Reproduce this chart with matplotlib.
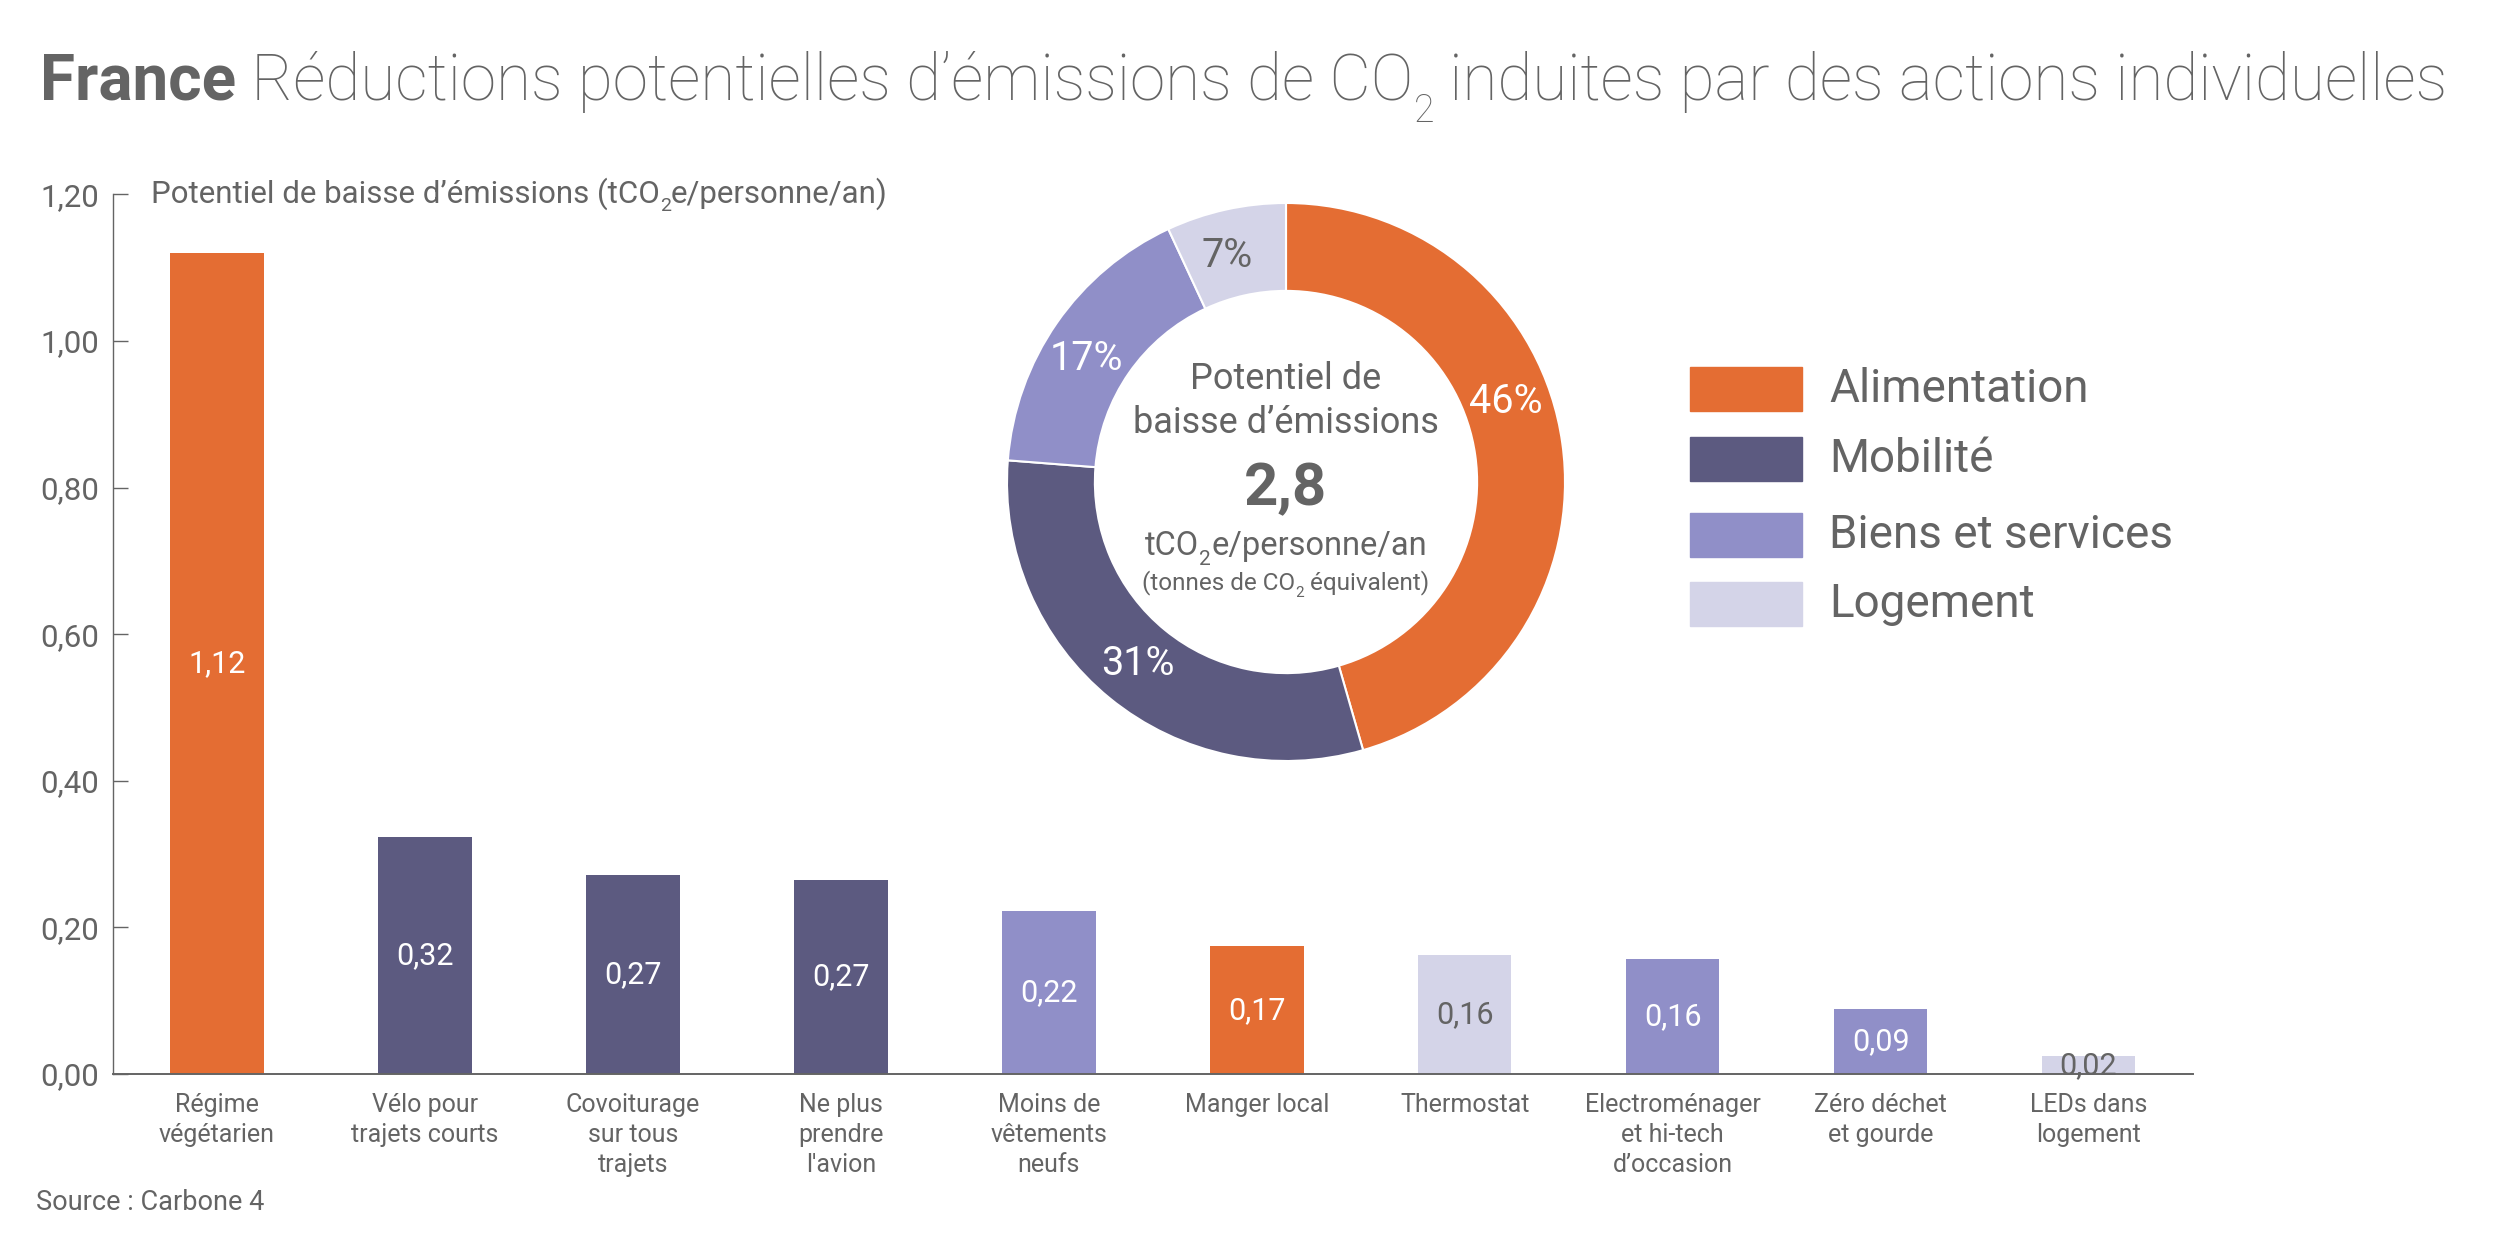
import matplotlib.pyplot as plt
from matplotlib.patches import Rectangle
import numpy as np

plt.rcParams['font.family'] = ['Roboto', 'DejaVu Sans']

# data
actions = ['Régime\nvégétarien', 'Vélo pour\ntrajets courts', 'Covoiturage\nsur tous\ntrajets',
           'Ne plus\nprendre\nl\'avion', 'Moins de\nvêtements\nneufs', 'Manger local', 'Thermostat',
           'Electroménager\net hi-tech\nd\u2019occasion', 'Zéro déchet\net gourde', 'LEDs dans\nlogement']
heights = [1.12, 0.324, 0.272, 0.265, 0.222, 0.174, 0.163, 0.157, 0.089, 0.024]
values = [1.12, 0.32, 0.27, 0.27, 0.22, 0.17, 0.16, 0.16, 0.09, 0.02]
action_cat = [0, 1, 1, 1, 2, 0, 3, 2, 2, 3]

categories = ['Alimentation', 'Mobilité', 'Biens et services', 'Logement']
cat_pct = [46, 31, 17, 7]
cat_colors = ['#E46D33', '#5C5A80', '#908FC8', '#D4D4E8']
label_on_light = [False, False, False, True]

yticks = [0.0, 0.2, 0.4, 0.6, 0.8, 1.0, 1.2]

grey = '#646464'
W, H = 2500, 1250

fig = plt.figure(figsize=(25, 12.5), dpi=100)
renderer = fig.canvas.get_renderer()


def runs_text(x, y, runs, ha='left'):
    # runs: (text, fontsize, weight, dy in px); x, y in px, y = baseline
    cur = x
    texts = []
    for s, fs, w, dy in runs:
        t = fig.text(cur / W, (y + dy) / H, s, fontsize=fs, fontweight=w, color=grey,
                     va='baseline', ha='left')
        cur = t.get_window_extent(renderer).x1
        texts.append(t)
    if ha == 'center':
        off = (cur - x) / 2
        for t in texts:
            px, py = t.get_position()
            t.set_position((px - off / W, py))
    return texts


# title
runs_text(40, H - 100, [('France', 46, 'bold', 0),
                        (' Réductions potentielles d\u2019émissions de CO', 46, 'light', 0),
                        ('2', 27, 'light', -22),
                        (' induites par des actions individuelles', 46, 'light', 0)])

# bar chart
ax = fig.add_axes([0.0452, 0.1408, 0.8318, 0.7036])
x = np.arange(len(actions))
colors = [cat_colors[c] for c in action_cat]
ax.bar(x, heights, width=0.45, color=colors)
for xi, h, v, c in zip(x, heights, values, action_cat):
    tc = grey if label_on_light[c] else 'white'
    ax.text(xi, h / 2, f'{v:.2f}'.replace('.', ','), ha='center', va='center',
            fontsize=22, color=tc)

ax.set_xlim(-0.5, 9.5)
ax.set_ylim(0, 1.2)
ax.set_yticks(yticks)
ax.set_yticklabels([f'{v:.2f}'.replace('.', ',') for v in yticks], fontsize=22.5, color=grey)
ax.set_xticks(x)
ax.set_xticklabels(actions, fontsize=18, color=grey, linespacing=1.3, va='top')
ax.tick_params(axis='y', direction='in', length=11, width=1, color=grey, pad=10)
ax.tick_params(axis='x', length=0, pad=14)
for s in ['top', 'right']:
    ax.spines[s].set_visible(False)
ax.spines['left'].set_color(grey)
ax.spines['left'].set_linewidth(1)
ax.spines['bottom'].set_color(grey)
ax.spines['bottom'].set_linewidth(1.4)

runs_text(151, H - 203, [('Potentiel de baisse d\u2019émissions (tCO', 22.5, 'normal', 0),
                         ('2', 14, 'normal', -8),
                         ('e/personne/an)', 22.5, 'normal', 0)])
fig.text(36 / W, 40 / H, 'Source : Carbone 4', fontsize=19.5, color=grey)

# donut
r_px = 279
cx, cy = 1286, H - 482
pax = fig.add_axes([(cx - r_px) / W, (cy - r_px) / H, 2 * r_px / W, 2 * r_px / H])
pax.pie(cat_pct, colors=cat_colors, startangle=90, counterclock=False,
        wedgeprops=dict(width=0.315, edgecolor='white', linewidth=1.5))
pax.set_xlim(-1, 1)
pax.set_ylim(-1, 1)
pax.set_aspect('equal')
pax.axis('off')

total_pct = sum(cat_pct)
shift = [-12, 0, -3, -2]
start = 0
for k, p in enumerate(cat_pct):
    frac = p / total_pct
    mid = np.deg2rad(start + frac * 360 / 2 + shift[k])
    start += frac * 360
    tc = grey if label_on_light[k] else 'white'
    pax.text(0.84 * np.sin(mid), 0.84 * np.cos(mid), f'{p}%',
             ha='center', va='center', fontsize=28.5, color=tc)

total = sum(values)
runs_text(cx, H - 389, [('Potentiel de', 26, 'normal', 0)], ha='center')
runs_text(cx, H - 433, [('baisse d\u2019émissions', 26, 'normal', 0)], ha='center')
runs_text(cx, H - 505, [(f'{total:.1f}'.replace('.', ','), 43, 'bold', 0)], ha='center')
runs_text(cx, H - 555, [('tCO', 23.5, 'normal', 0), ('2', 15, 'normal', -10),
                        ('e/personne/an', 23.5, 'normal', 0)], ha='center')
runs_text(cx, H - 589, [('(tonnes de CO', 17.5, 'normal', 0), ('2', 11, 'normal', -8),
                        (' équivalent)', 17.5, 'normal', 0)], ha='center')

# legend
row_tops = [367, 437, 513, 582]
for k, name in enumerate(categories):
    top = row_tops[k]
    fig.add_artist(Rectangle((1690 / W, 1 - (top + 44) / H), 112 / W, 44 / H,
                             transform=fig.transFigure, color=cat_colors[k]))
    fig.text(1829 / W, 1 - (top + 22) / H, name, va='center', fontsize=33, color=grey)

fig.savefig('out.png', dpi=100)
